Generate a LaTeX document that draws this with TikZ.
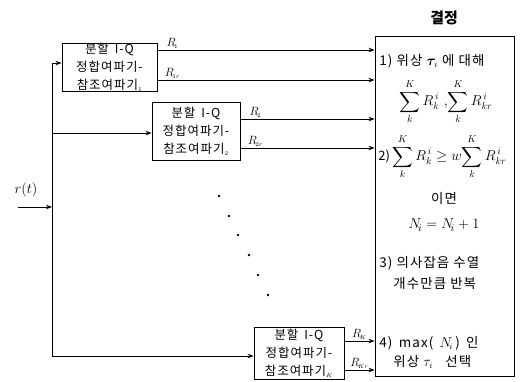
\documentclass[tikz,border=0pt]{standalone}
\usepackage{amsmath}
\usepackage{fontspec}
\newfontfamily\kr{Noto Sans CJK KR}
\newfontfamily\krs{Noto Sans CJK KR}[LetterSpace=8]
\usetikzlibrary{arrows.meta}
\begin{document}
\begin{tikzpicture}[x=1bp,y=-1bp,
  line width=0.9bp,
  arr/.style={-{Stealth[length=6bp,width=4.5bp]}},
  blk/.style={draw, align=center, inner sep=0pt, font=\krs\fontsize{12.5}{18}\selectfont},
  rlab/.style={font=\fontsize{12}{13}\selectfont, inner sep=1bp, anchor=south},
  dtxt/.style={font=\krs\fontsize{13.5}{16}\selectfont, inner sep=0pt},
  mtxt/.style={inner sep=0pt, font=\fontsize{14}{16}\selectfont},
  dot/.style={circle, fill, inner sep=0pt, minimum size=2.6bp}]
\useasboundingbox (0,0) rectangle (520,381);

% blocks
\node[blk, minimum width=95bp, minimum height=47bp] (b1) at (109.5,67.5)
  {분할 \,I-Q\\정합여파기-\\참조여파기$_{\scriptscriptstyle 1}$};
\node[blk, minimum width=88bp, minimum height=58bp] (b2) at (196,131)
  {분할 \,I-Q\\정합여파기-\\참조여파기$_{\scriptscriptstyle 2}$};
\node[blk, minimum width=90bp, minimum height=52bp] (bk) at (299,353)
  {분할 \,I-Q\\정합여파기-\\참조여파기$_{\scriptscriptstyle K}$};

% decision
\node[draw, minimum width=139bp, minimum height=340bp, inner sep=0pt] (dec) at (444.5,206) {};
\node[font=\kr\bfseries\fontsize{15}{18}\selectfont] (title) at (444,18) {결정};

\node[dtxt, anchor=west] (t1) at (379,61) {1) 위상 $\boldsymbol{\tau}_{\!i}$ 에 대해};
\node[mtxt] (t2) at (446,102)
  {$\displaystyle\sum_{k}^{K} R_{k}^{\,i}\ ,\!\sum_{k}^{K} R_{kr}^{\,i}$};
\node[mtxt, anchor=west] (t3) at (378,157)
  {{\kr\fontsize{13}{15}\selectfont 2)}\,$\displaystyle\sum_{k}^{K} R_{k}^{\,i} \ge w\!\sum_{k}^{K} R_{kr}^{\,i}$};
\node[dtxt] (t4) at (444,198) {이면};
\node[mtxt, font=\fontsize{15}{17}\selectfont] (t5) at (444,225) {$N_{\!i} = N_{\!i} +1$};
\node[dtxt, anchor=west] (t6) at (379,263) {3) 의사잡음 수열};
\node[dtxt, anchor=west] (t7) at (393,283) {개수만큼 반복};
\node[dtxt, anchor=west] (t8) at (379,343) {4) \,max( \,$N_{\!i}$\,) \,인};
\node[dtxt, anchor=west] (t9) at (393,362) {위상 $\tau_{i}$ \ \ 선택};

% input
\node[font=\fontsize{15}{18}\selectfont] (rt) at (26,190) {$r(t)$};
\coordinate (in) at (18,207);
\coordinate (j) at (52,207);
\coordinate (jt) at (52,63);
\coordinate (jm) at (52,133);
\coordinate (jb) at (52,356);
\draw[arr] (in) -- (j);
\draw (jt) -- (jb);
\draw[arr] (jt) -- (b1.west |- jt);
\draw[arr] (jm) -- (b2.west |- jm);
\draw[arr] (jb) -- (bk.west |- jb);

% outputs
\foreach \b/\y/\lab in {b1/50/1, b1/80/1r, b2/119/2, b2/148/2r, bk/341/K, bk/370/Kr}{
  \coordinate (s) at (\b.east |- 0,\y);
  \coordinate (e) at (dec.west |- 0,\y);
  \draw[arr] (s) -- (e);
  \node[rlab] at ([xshift=15bp]s) {$R_{\!\scriptscriptstyle \lab}$};
}

% dots
\foreach \x/\y in {219/196, 229/216, 238/235, 249/255, 258/275, 268/295}
  \node[dot] at (\x,\y) {};
\end{tikzpicture}
\end{document}
